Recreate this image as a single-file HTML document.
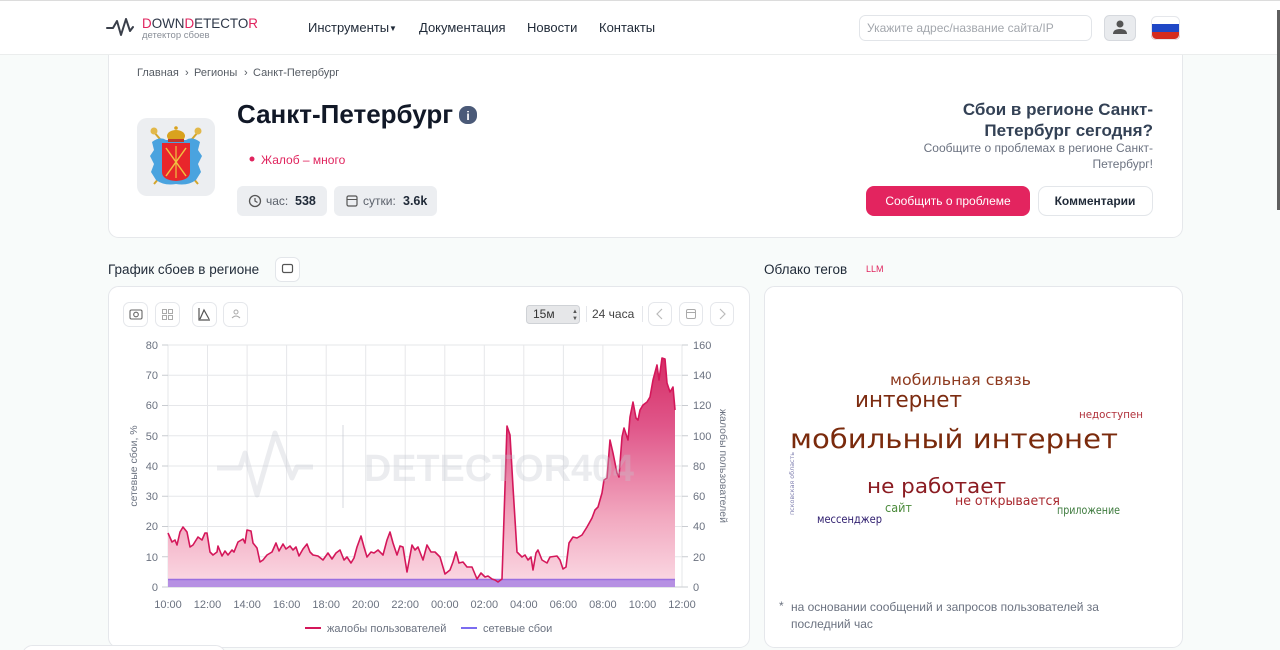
<!DOCTYPE html>
<html><head><meta charset="utf-8">
<style>
*{margin:0;padding:0;box-sizing:border-box}
html,body{width:1280px;height:650px;overflow:hidden;background:#f8fbfa}
svg{display:block}
</style></head>
<body>
<svg width="1280" height="650" viewBox="0 0 1280 650" xmlns="http://www.w3.org/2000/svg" font-family="'Liberation Sans','DejaVu Sans',sans-serif">
<defs>
  <linearGradient id="gf" x1="0" y1="358" x2="0" y2="587" gradientUnits="userSpaceOnUse">
    <stop offset="0" stop-color="#d52d65"/>
    <stop offset="0.3" stop-color="#e0578a"/>
    <stop offset="0.7" stop-color="#f2a9c0"/>
    <stop offset="1" stop-color="#fbdbe5"/>
  </linearGradient>
  <clipPath id="flag"><rect x="1151" y="16" width="29" height="24" rx="5"/></clipPath>
</defs>

<rect x="0" y="0" width="1280" height="650" fill="#f8fbfa"/>

<!-- main card -->
<rect x="108.5" y="30.5" width="1074" height="207" rx="10" fill="#fff" stroke="#e6e8eb"/>

<!-- header -->
<rect x="0" y="0" width="1280" height="55" fill="#fff"/>
<line x1="0" y1="54.5" x2="1280" y2="54.5" stroke="#ebeded"/>
<line x1="0" y1="0.5" x2="1280" y2="0.5" stroke="#dcdcdc"/>
<polyline points="107,28 113,28 117,21 121,35 126,19 130,31 133,27" fill="none" stroke="#3a3f4a" stroke-width="2" stroke-linejoin="round" stroke-linecap="round"/>
<text x="142" y="28" font-size="14" textLength="116" lengthAdjust="spacingAndGlyphs" fill="#2d3748"><tspan fill="#e0245e">D</tspan>OWN<tspan fill="#e0245e">D</tspan>ETECTO<tspan fill="#e0245e">R</tspan></text>
<text x="142" y="38" font-size="9.5" fill="#8a8f98">детектор сбоев</text>
<text x="308" y="32" font-size="13" fill="#1f2937">Инструменты</text>
<text x="389" y="31" font-size="8" fill="#1f2937">▼</text>
<text x="419" y="32" font-size="13" fill="#1f2937">Документация</text>
<text x="527" y="32" font-size="13" fill="#1f2937">Новости</text>
<text x="599" y="32" font-size="13" fill="#1f2937">Контакты</text>
<rect x="859.5" y="15.5" width="232" height="25" rx="6" fill="#fff" stroke="#e2e5e9"/>
<text x="867" y="32" font-size="12" fill="#a3a7ad">Укажите адрес/название сайта/IP</text>
<rect x="1104.5" y="15.5" width="31" height="25" rx="5" fill="#e9ebee" stroke="#d6d9de"/>
<circle cx="1120" cy="24" r="3.5" fill="#555"/>
<path d="M1113,34 Q1113,29 1120,29 Q1127,29 1127,34 Z" fill="#555"/>
<g clip-path="url(#flag)">
  <rect x="1151" y="16" width="29" height="8" fill="#fff"/>
  <rect x="1151" y="24" width="29" height="8" fill="#1f47c6"/>
  <rect x="1151" y="32" width="29" height="8" fill="#d52b1e"/>
</g>
<rect x="1151.5" y="16.5" width="28" height="23" rx="5" fill="none" stroke="#e5e7eb"/>
<rect x="1277" y="10" width="3" height="200" fill="#5f5f5f"/>

<!-- breadcrumb -->
<g font-size="11" fill="#555b63">
<text x="137" y="76">Главная</text>
<text x="185" y="76">›</text>
<text x="194" y="76">Регионы</text>
<text x="244" y="76">›</text>
<text x="253" y="76">Санкт-Петербург</text>
</g>

<!-- emblem -->
<rect x="137" y="118" width="78" height="78" rx="10" fill="#eceef1"/>
<line x1="154" y1="132" x2="198" y2="184" stroke="#d4a52a" stroke-width="2"/>
<line x1="198" y1="132" x2="154" y2="184" stroke="#d4a52a" stroke-width="2"/>
<circle cx="154" cy="131" r="3.5" fill="#e2b84a"/>
<circle cx="198" cy="131" r="3.5" fill="#e2b84a"/>
<path d="M152,142 Q160,136 166,140 L186,140 Q192,136 200,142 L198,150 L202,156 L198,164 L201,172 L196,180 Q188,186 176,184 Q164,186 156,180 L151,172 L154,164 L150,156 L154,150 Z" fill="#4aa3df"/>
<ellipse cx="176" cy="136" rx="9" ry="6" fill="#d9a21e"/>
<rect x="168" y="139" width="16" height="3" fill="#c0392b"/>
<circle cx="176" cy="128" r="1.8" fill="#d9a21e"/>
<path d="M162,143 L190,143 L190,172 Q190,180 176,181 Q162,180 162,172 Z" fill="#e8262b"/>
<line x1="166" y1="148" x2="186" y2="176" stroke="#f0c040" stroke-width="1.5"/>
<line x1="186" y1="148" x2="166" y2="176" stroke="#f0c040" stroke-width="1.5"/>
<line x1="176" y1="146" x2="176" y2="178" stroke="#f0c040" stroke-width="1.2"/>

<!-- title -->
<text x="237" y="123" font-size="26" font-weight="bold" fill="#111827">Санкт-Петербург</text>
<rect x="459" y="106" width="18" height="18" rx="8" fill="#4b5a78"/>
<text x="468" y="120" font-size="12" font-weight="bold" fill="#fff" text-anchor="middle">i</text>
<circle cx="252" cy="159" r="2.5" fill="#e0245e"/>
<text x="261" y="164" font-size="12" fill="#e0245e">Жалоб – много</text>

<!-- stats -->
<rect x="237" y="186" width="90" height="30" rx="6" fill="#eceef1"/>
<circle cx="255" cy="201" r="5.5" fill="none" stroke="#555" stroke-width="1.3"/>
<path d="M255,198 L255,201 L257.5,202.5" fill="none" stroke="#555" stroke-width="1.2"/>
<text x="266" y="205" font-size="12" fill="#5b616b">час:</text>
<text x="295" y="205" font-size="12.5" font-weight="bold" fill="#1f2937">538</text>
<rect x="334" y="186" width="103" height="30" rx="6" fill="#eceef1"/>
<rect x="347" y="196" width="10" height="10" rx="1.5" fill="none" stroke="#555" stroke-width="1.2"/>
<line x1="347" y1="199.5" x2="357" y2="199.5" stroke="#555" stroke-width="1"/>
<text x="363" y="205" font-size="12" fill="#5b616b">сутки:</text>
<text x="403" y="205" font-size="12.5" font-weight="bold" fill="#1f2937">3.6k</text>

<!-- right block -->
<text x="1153" y="115" font-size="17" font-weight="bold" fill="#334155" text-anchor="end">Сбои в регионе Санкт-</text>
<text x="1153" y="136" font-size="17" font-weight="bold" fill="#334155" text-anchor="end">Петербург сегодня?</text>
<text x="1153" y="152" font-size="12" fill="#6b7280" text-anchor="end">Сообщите о проблемах в регионе Санкт-</text>
<text x="1153" y="168" font-size="12" fill="#6b7280" text-anchor="end">Петербург!</text>
<rect x="866" y="186" width="164" height="30" rx="8" fill="#e3245f"/>
<text x="948" y="205" font-size="12" fill="#fff" text-anchor="middle">Сообщить о проблеме</text>
<rect x="1038.5" y="186.5" width="114" height="29" rx="8" fill="#fff" stroke="#e3e6ea"/>
<text x="1095" y="205" font-size="12" font-weight="bold" fill="#1f2937" text-anchor="middle">Комментарии</text>

<!-- section titles -->
<text x="108" y="274" font-size="13.5" fill="#1f2937">График сбоев в регионе</text>
<rect x="275.5" y="257.5" width="24" height="24" rx="6" fill="#fff" stroke="#e3e6ea"/>
<rect x="282.5" y="264.5" width="10" height="8" rx="1.5" fill="none" stroke="#555" stroke-width="1.2"/>
<text x="764" y="274" font-size="13.5" fill="#1f2937">Облако тегов</text>
<text x="866" y="272" font-size="9" fill="#e0245e">LLM</text>

<!-- chart card -->
<rect x="108.5" y="286.5" width="641" height="361" rx="10" fill="#fff" stroke="#e5e7eb"/>
<rect x="123.5" y="302.5" width="24" height="24" rx="6" fill="#fff" stroke="#e5e7eb"/>
<rect x="130" y="310" width="12" height="9" rx="1.5" fill="none" stroke="#666" stroke-width="1.1"/>
<circle cx="136" cy="314.5" r="2.3" fill="none" stroke="#666" stroke-width="1.1"/>
<rect x="155.5" y="302.5" width="24" height="24" rx="6" fill="#fff" stroke="#e5e7eb"/>
<g fill="none" stroke="#aaa" stroke-width="1">
<rect x="162.5" y="309.5" width="4" height="4"/><rect x="168.5" y="309.5" width="4" height="4"/>
<rect x="162.5" y="315.5" width="4" height="4"/><rect x="168.5" y="315.5" width="4" height="4"/></g>
<rect x="192.5" y="302.5" width="24" height="24" rx="6" fill="#fff" stroke="#e5e7eb"/>
<path d="M199,308 L199,320 L210,320 M200,319 L204,310 L209,319" fill="none" stroke="#555" stroke-width="1.2"/>
<rect x="223.5" y="302.5" width="24" height="24" rx="6" fill="#fff" stroke="#e5e7eb"/>
<circle cx="236" cy="312" r="2" fill="none" stroke="#aaa"/>
<path d="M232,318 Q236,314 240,318" fill="none" stroke="#aaa"/>
<rect x="526.5" y="305.5" width="53" height="18" rx="3" fill="#e6e7e9" stroke="#cfd2d6"/>
<text x="533" y="318" font-size="12" fill="#333">15м</text>
<text x="572" y="313" font-size="6" fill="#555">▲</text>
<text x="572" y="320" font-size="6" fill="#555">▼</text>
<line x1="586.5" y1="306" x2="586.5" y2="322" stroke="#e5e7eb"/>
<text x="592" y="318" font-size="12" fill="#444">24 часа</text>
<line x1="642.5" y1="306" x2="642.5" y2="322" stroke="#e5e7eb"/>
<rect x="648.5" y="302.5" width="23" height="23" rx="6" fill="#fff" stroke="#e5e7eb"/>
<path d="M662,309 L657,314 L662,319" fill="none" stroke="#bbb" stroke-width="1.2"/>
<rect x="679.5" y="302.5" width="23" height="23" rx="6" fill="#fff" stroke="#e5e7eb"/>
<rect x="686.5" y="309.5" width="9" height="9" rx="1.5" fill="none" stroke="#aaa"/>
<line x1="686.5" y1="312.5" x2="695.5" y2="312.5" stroke="#aaa"/>
<rect x="710.5" y="302.5" width="23" height="23" rx="6" fill="#fff" stroke="#e5e7eb"/>
<path d="M720,309 L725,314 L720,319" fill="none" stroke="#bbb" stroke-width="1.2"/>

<!-- grid -->
<g stroke="#e6e7ea" stroke-width="1">
<line x1="168" y1="345" x2="682" y2="345"/><line x1="168" y1="375.25" x2="682" y2="375.25"/>
<line x1="168" y1="405.5" x2="682" y2="405.5"/><line x1="168" y1="435.75" x2="682" y2="435.75"/>
<line x1="168" y1="466" x2="682" y2="466"/><line x1="168" y1="496.25" x2="682" y2="496.25"/>
<line x1="168" y1="526.5" x2="682" y2="526.5"/><line x1="168" y1="556.75" x2="682" y2="556.75"/>
<line x1="168" y1="345" x2="168" y2="587"/><line x1="207.5" y1="345" x2="207.5" y2="587"/>
<line x1="247.1" y1="345" x2="247.1" y2="587"/><line x1="286.6" y1="345" x2="286.6" y2="587"/>
<line x1="326.2" y1="345" x2="326.2" y2="587"/><line x1="365.7" y1="345" x2="365.7" y2="587"/>
<line x1="405.2" y1="345" x2="405.2" y2="587"/><line x1="444.8" y1="345" x2="444.8" y2="587"/>
<line x1="484.3" y1="345" x2="484.3" y2="587"/><line x1="523.8" y1="345" x2="523.8" y2="587"/>
<line x1="563.4" y1="345" x2="563.4" y2="587"/><line x1="602.9" y1="345" x2="602.9" y2="587"/>
<line x1="642.5" y1="345" x2="642.5" y2="587"/><line x1="682" y1="345" x2="682" y2="587"/>
</g>
<g stroke="#c9ccd1" stroke-width="1">
<line x1="162" y1="345" x2="168" y2="345"/><line x1="162" y1="375.25" x2="168" y2="375.25"/>
<line x1="162" y1="405.5" x2="168" y2="405.5"/><line x1="162" y1="435.75" x2="168" y2="435.75"/>
<line x1="162" y1="466" x2="168" y2="466"/><line x1="162" y1="496.25" x2="168" y2="496.25"/>
<line x1="162" y1="526.5" x2="168" y2="526.5"/><line x1="162" y1="556.75" x2="168" y2="556.75"/>
<line x1="162" y1="587" x2="688" y2="587"/>
<line x1="682" y1="345" x2="688" y2="345"/><line x1="682" y1="375.25" x2="688" y2="375.25"/>
<line x1="682" y1="405.5" x2="688" y2="405.5"/><line x1="682" y1="435.75" x2="688" y2="435.75"/>
<line x1="682" y1="466" x2="688" y2="466"/><line x1="682" y1="496.25" x2="688" y2="496.25"/>
<line x1="682" y1="526.5" x2="688" y2="526.5"/><line x1="682" y1="556.75" x2="688" y2="556.75"/>
</g>

<!-- series -->
<path d="M168,533 L172,542 L175,540 L177,545 L180,532 L183,527 L187,532 L190,547 L193,545 L198,537 L202,540 L205,533 L207,533 L210,552 L213,555 L217,552 L218,546 L222,556 L225,551 L228,555 L232,550 L234,552 L238,542 L243,539 L245,543 L247,530 L251,531 L253,543 L257,548 L260,562 L263,560 L267,555 L272,552 L276,543 L279,551 L283,544 L286,549 L290,546 L293,550 L296,547 L299,556 L303,549 L307,544 L310,552 L313,555 L318,556 L323,560 L328,553 L332,559 L336,553 L340,550 L344,560 L347,557 L351,563 L354,558 L357,547 L361,536 L364,547 L367,557 L371,552 L374,553 L378,550 L383,555 L387,540 L390,532 L393,543 L397,555 L400,546 L403,547 L407,572 L412,545 L415,550 L418,547 L423,560 L427,545 L431,552 L435,552 L440,557 L445,574 L450,570 L453,562 L456,552 L459,563 L463,562 L467,567 L472,567 L477,579 L481,573 L485,577 L488,576 L492,579 L495,580 L498,582 L502,579 L505,487 L507,426 L510,435 L513,487 L517,552 L522,557 L525,555 L528,560 L531,557 L533,570 L536,553 L538,550 L542,560 L547,563 L550,557 L557,556 L560,560 L563,569 L566,567 L569,543 L573,537 L577,538 L582,535 L587,527 L592,518 L595,510 L598,507 L602,493 L604,480 L607,478 L610,440 L613,453 L617,473 L619,477 L622,437 L624,428 L628,440 L630,417 L633,402 L636,418 L638,420 L640,410 L643,405 L647,402 L650,397 L653,380 L657,365 L659,380 L662,358 L665,359 L667,383 L670,392 L673,387 L675,410 L675,587 L168,587 Z" fill="url(#gf)"/>
<rect x="168" y="579" width="507" height="8" fill="#b690e3"/>
<line x1="168" y1="579.5" x2="675" y2="579.5" stroke="#9a6fe0" stroke-width="1.5"/>
<path d="M168,533 L172,542 L175,540 L177,545 L180,532 L183,527 L187,532 L190,547 L193,545 L198,537 L202,540 L205,533 L207,533 L210,552 L213,555 L217,552 L218,546 L222,556 L225,551 L228,555 L232,550 L234,552 L238,542 L243,539 L245,543 L247,530 L251,531 L253,543 L257,548 L260,562 L263,560 L267,555 L272,552 L276,543 L279,551 L283,544 L286,549 L290,546 L293,550 L296,547 L299,556 L303,549 L307,544 L310,552 L313,555 L318,556 L323,560 L328,553 L332,559 L336,553 L340,550 L344,560 L347,557 L351,563 L354,558 L357,547 L361,536 L364,547 L367,557 L371,552 L374,553 L378,550 L383,555 L387,540 L390,532 L393,543 L397,555 L400,546 L403,547 L407,572 L412,545 L415,550 L418,547 L423,560 L427,545 L431,552 L435,552 L440,557 L445,574 L450,570 L453,562 L456,552 L459,563 L463,562 L467,567 L472,567 L477,579 L481,573 L485,577 L488,576 L492,579 L495,580 L498,582 L502,579 L505,487 L507,426 L510,435 L513,487 L517,552 L522,557 L525,555 L528,560 L531,557 L533,570 L536,553 L538,550 L542,560 L547,563 L550,557 L557,556 L560,560 L563,569 L566,567 L569,543 L573,537 L577,538 L582,535 L587,527 L592,518 L595,510 L598,507 L602,493 L604,480 L607,478 L610,440 L613,453 L617,473 L619,477 L622,437 L624,428 L628,440 L630,417 L633,402 L636,418 L638,420 L640,410 L643,405 L647,402 L650,397 L653,380 L657,365 L659,380 L662,358 L665,359 L667,383 L670,392 L673,387 L675,410" fill="none" stroke="#d4175a" stroke-width="1.6" stroke-linejoin="round"/>

<!-- watermark -->
<g opacity="0.32">
<polyline points="217,468 240,468 245,453 257,495 275,433 292,478 297,467 313,467" fill="none" stroke="#c3c7cf" stroke-width="5" stroke-linejoin="round"/>
<line x1="343" y1="425" x2="343" y2="508" stroke="#c3c7cf" stroke-width="2"/>
<text x="364" y="481" font-size="38" font-weight="bold" fill="#c3c7cf" textLength="270" lengthAdjust="spacingAndGlyphs">DETECTOR404</text>
</g>

<!-- axis labels -->
<g font-size="11" fill="#6b7280" text-anchor="end">
<text x="158" y="349">80</text><text x="158" y="379">70</text><text x="158" y="409">60</text>
<text x="158" y="440">50</text><text x="158" y="470">40</text><text x="158" y="500">30</text>
<text x="158" y="530">20</text><text x="158" y="561">10</text><text x="158" y="591">0</text>
</g>
<g font-size="11" fill="#6b7280">
<text x="693" y="349">160</text><text x="693" y="379">140</text><text x="693" y="409">120</text>
<text x="693" y="440">100</text><text x="693" y="470">80</text><text x="693" y="500">60</text>
<text x="693" y="530">40</text><text x="693" y="561">20</text><text x="693" y="591">0</text>
</g>
<g font-size="11" fill="#6b7280" text-anchor="middle">
<text x="168" y="608">10:00</text><text x="207.5" y="608">12:00</text><text x="247.1" y="608">14:00</text>
<text x="286.6" y="608">16:00</text><text x="326.2" y="608">18:00</text><text x="365.7" y="608">20:00</text>
<text x="405.2" y="608">22:00</text><text x="444.8" y="608">00:00</text><text x="484.3" y="608">02:00</text>
<text x="523.8" y="608">04:00</text><text x="563.4" y="608">06:00</text><text x="602.9" y="608">08:00</text>
<text x="642.5" y="608">10:00</text><text x="682" y="608">12:00</text>
</g>
<text x="137" y="466" font-size="10.5" fill="#6b7280" text-anchor="middle" transform="rotate(-90 137 466)">сетевые сбои, %</text>
<text x="720" y="466" font-size="10.5" fill="#6b7280" text-anchor="middle" transform="rotate(90 720 466)">жалобы пользователей</text>

<!-- legend -->
<line x1="305" y1="628" x2="321" y2="628" stroke="#d4175a" stroke-width="2"/>
<text x="327" y="632" font-size="11" fill="#6b7280">жалобы пользователей</text>
<line x1="461" y1="628" x2="477" y2="628" stroke="#7b6cf0" stroke-width="2"/>
<text x="483" y="632" font-size="11" fill="#6b7280">сетевые сбои</text>

<!-- tag card -->
<rect x="764.5" y="286.5" width="418" height="361" rx="10" fill="#fff" stroke="#e5e7eb"/>
<g font-family="'DejaVu Sans','Liberation Sans',sans-serif">
<text x="890" y="385" font-size="15" fill="#8e3a1f" textLength="141" lengthAdjust="spacingAndGlyphs">мобильная связь</text>
<text x="855" y="407" font-size="22" fill="#7c2b10" textLength="107" lengthAdjust="spacingAndGlyphs">интернет</text>
<text x="790" y="448" font-size="27" fill="#7a2a0c" textLength="328" lengthAdjust="spacingAndGlyphs">мобильный интернет</text>
<text x="1079" y="418" font-size="11" fill="#b0303a" textLength="64" lengthAdjust="spacingAndGlyphs">недоступен</text>
<text x="867" y="493" font-size="20" fill="#8b1c22" textLength="139" lengthAdjust="spacingAndGlyphs">не работает</text>
<text x="955" y="505" font-size="13" fill="#a8282e" textLength="105" lengthAdjust="spacingAndGlyphs">не открывается</text>
<text x="885" y="512" font-size="12" fill="#4a8a3a" textLength="27" lengthAdjust="spacingAndGlyphs">сайт</text>
<text x="1057" y="514" font-size="11.5" fill="#3d7a3d" textLength="63" lengthAdjust="spacingAndGlyphs">приложение</text>
<text x="817" y="523" font-size="11.5" fill="#2e1d6e" textLength="65" lengthAdjust="spacingAndGlyphs">мессенджер</text>
<text x="794" y="515" font-size="6" fill="#8080b0" textLength="63" lengthAdjust="spacingAndGlyphs" transform="rotate(-90 794 515)">псковская область</text>
</g>
<text x="779" y="610" font-size="12" fill="#6b7280">*</text>
<text x="791" y="611" font-size="12" fill="#6b7280">на основании сообщений и запросов пользователей за</text>
<text x="791" y="628" font-size="12" fill="#6b7280">последний час</text>

<rect x="22.5" y="645.5" width="203" height="20" rx="10" fill="#fff" stroke="#e5e7eb"/>
</svg>
</body></html>
